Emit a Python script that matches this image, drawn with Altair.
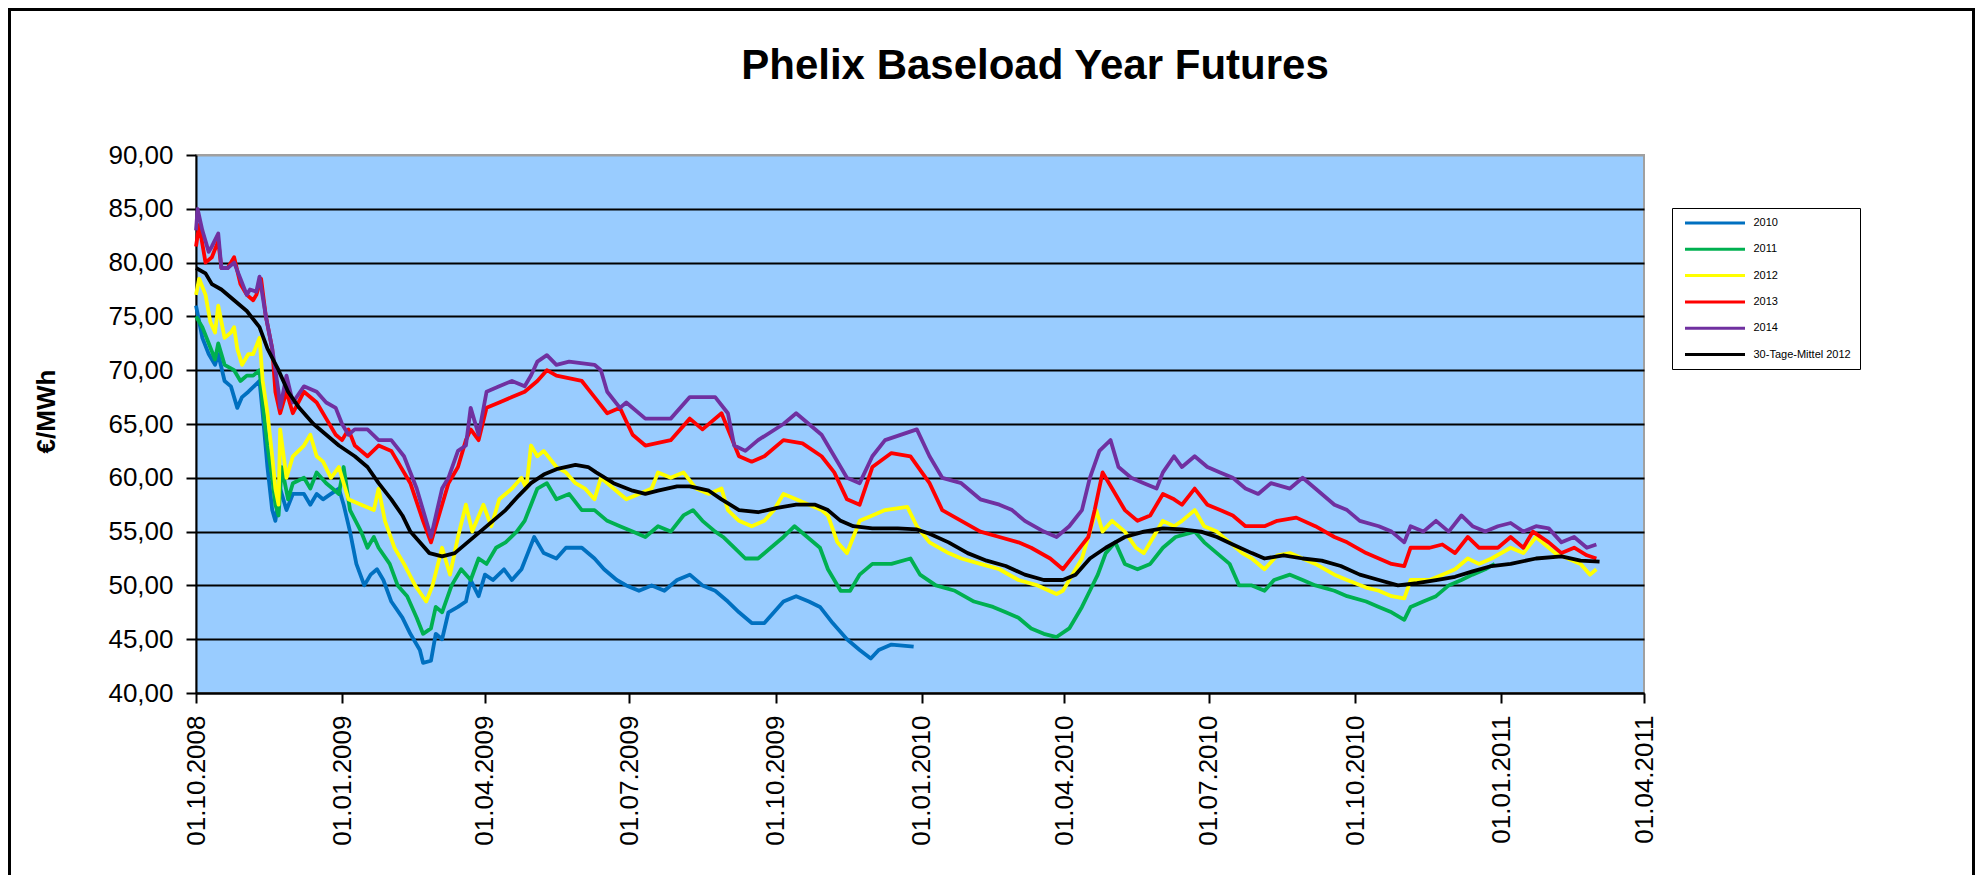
import altair as alt
import pandas as pd

START = "2008-10-01"
TITLE = "Phelix Baseload Year Futures"
SERIES = ["2010", "2011", "2012", "2013", "2014", "30-Tage-Mittel 2012"]
COLORS = ["#0070C0", "#00B050", "#FFFF00", "#FF0000", "#7030A0", "#000000"]

# days since 01.10.2008 and values (EUR/MWh)
d_2010 = [0, 4, 8, 12, 14, 18, 22, 26, 29, 33, 40, 42, 45, 48, 50, 53, 57, 61, 68, 72, 76, 80, 85, 90, 93, 97,
          101, 106, 110, 114, 118, 123, 130, 135, 141, 143, 148, 151, 155, 159, 165, 170, 173, 178, 182, 187,
          194, 199, 205, 209, 213, 219, 227, 233, 243, 251, 257, 265, 271, 279, 287, 295, 303, 311, 319, 327,
          335, 342, 350, 358, 364, 370, 378, 386, 393, 401, 410, 418, 425, 430, 438, 452]
v_2010 = [76, 73, 71.5, 70.5, 71.5, 69, 68.5, 66.5, 67.5, 68, 69, 66, 61, 57, 56, 59, 57, 58.5, 58.5, 57.5, 58.5,
          58, 58.5, 59, 57.5, 55, 52, 50, 51, 51.5, 50.5, 48.5, 47, 45.5, 44, 42.8, 43, 45.5, 45, 47.5, 48, 48.5,
          50.5, 49, 51, 50.5, 51.5, 50.5, 51.5, 53, 54.5, 53, 52.5, 53.5, 53.5, 52.5, 51.5, 50.5, 50, 49.5, 50,
          49.5, 50.5, 51, 50, 49.5, 48.5, 47.5, 46.5, 46.5, 47.5, 48.5, 49, 48.5, 48, 46.5, 45, 44, 43.2, 44,
          44.5, 44.3]

d_2011 = [0, 4, 8, 12, 14, 18, 24, 28, 32, 36, 40, 42, 45, 48, 50, 52, 54, 58, 61, 68, 72, 76, 82, 86, 90, 93,
          97, 104, 108, 112, 115, 122, 127, 133, 139, 143, 148, 151, 155, 161, 167, 173, 178, 183, 189, 195, 202,
          207, 211, 215, 221, 227, 235, 243, 251, 259, 267, 275, 283, 291, 299, 307, 313, 319, 327, 332, 339,
          346, 354, 362, 370, 377, 385, 393, 398, 406, 412, 418, 426, 438, 450, 456, 466, 478, 490, 502, 510,
          518, 526, 534, 542, 550, 558, 563, 568, 573, 579, 585, 593, 601, 609, 617, 629, 635, 643, 651, 657,
          665, 673, 679, 689, 697, 705, 717, 725, 737, 745, 753, 761, 765, 773, 781, 789, 797, 804, 812, 818]
v_2011 = [75, 74, 72.5, 71, 72.5, 70.5, 70, 69, 69.5, 69.5, 70, 67, 63, 60, 57.5, 56.5, 61, 58, 59.5, 60, 59,
          60.5, 59.5, 59, 58.5, 61, 57, 55, 53.5, 54.5, 53.5, 52, 50, 49, 47, 45.5, 46, 48, 47.5, 50, 51.5, 50.5,
          52.5, 52, 53.5, 54, 55, 56, 57.5, 59, 59.5, 58, 58.5, 57, 57, 56, 55.5, 55, 54.5, 55.5, 55, 56.5, 57,
          56, 55, 54.5, 53.5, 52.5, 52.5, 53.5, 54.5, 55.5, 54.5, 53.5, 51.5, 49.5, 49.5, 51, 52, 52, 52.5, 51,
          50, 49.5, 48.5, 48, 47.5, 47, 46, 45.5, 45.2, 46, 48, 49.5, 51, 53, 54, 52, 51.5, 52, 53.5, 54.5, 55,
          54, 53, 52, 50, 50, 49.5, 50.5, 51, 50.5, 50, 49.5, 49, 48.5, 48, 47.5, 46.8, 48, 48.5, 49, 50, 50.5,
          51, 51.5, 52]

d_2012 = [0, 2, 6, 9, 12, 14, 18, 22, 24, 26, 29, 33, 36, 40, 42, 45, 48, 50, 52, 53, 57, 61, 68, 72, 76, 80,
          85, 90, 96, 104, 112, 115, 119, 125, 131, 138, 145, 149, 155, 160, 165, 170, 174, 181, 186, 191, 199,
          205, 208, 211, 215, 219, 227, 233, 239, 245, 251, 255, 263, 271, 279, 287, 291, 299, 307, 315, 323,
          331, 335, 342, 350, 358, 364, 370, 378, 386, 394, 398, 404, 410, 414, 418, 426, 434, 448, 454, 462,
          474, 482, 494, 506, 518, 530, 542, 546, 552, 558, 563, 567, 571, 577, 585, 592, 597, 603, 609, 616,
          621, 629, 635, 643, 651, 659, 665, 673, 681, 689, 697, 705, 717, 725, 737, 745, 753, 761, 765, 777,
          785, 793, 801, 808, 816, 828, 836, 844, 856, 864, 872, 878, 882]
v_2012 = [77, 78.5, 77, 74.5, 73.5, 76, 73, 73.5, 74, 72, 70.5, 71.5, 71.5, 73, 69, 66, 62, 59, 57.5, 64.5, 60,
          62, 63, 64, 62, 61.5, 60, 61, 58, 57.5, 57, 59, 56, 53.5, 52, 50, 48.5, 50, 53.5, 51, 54.5, 57.5, 55,
          57.5, 55.5, 58, 59, 60, 59, 63, 62, 62.5, 61, 60.5, 59.5, 59, 58, 60, 59, 58, 58.5, 59, 60.5, 60, 60.5,
          59, 58.5, 59, 57, 56, 55.5, 56, 57, 58.5, 58, 57.5, 57, 56.5, 54, 53, 54.5, 56, 56.5, 57, 57.3, 55.5,
          54, 53, 52.5, 52, 51.5, 50.5, 50, 49.2, 49.5, 51, 52.5, 55, 57, 55, 56, 55, 53.5, 53, 54.5, 56, 55.5,
          56, 57, 55.5, 55, 54, 53, 52.5, 51.5, 52.8, 53, 52.5, 52, 51, 50.5, 49.8, 49.5, 49, 48.8, 50.5, 50.5,
          51, 51.5, 52.5, 52, 52.5, 53.5, 53, 54.5, 53, 52.5, 52, 51, 51.5]

d_2013 = [0, 2, 6, 10, 14, 16, 20, 24, 28, 32, 36, 38, 41, 44, 48, 50, 53, 57, 61, 68, 76, 82, 88, 92, 96, 100,
          108, 115, 123, 135, 143, 148, 155, 159, 165, 170, 173, 178, 183, 191, 199, 207, 215, 221, 227, 243,
          251, 259, 267, 275, 283, 299, 311, 319, 331, 342, 350, 358, 370, 382, 394, 402, 410, 418, 426, 438,
          450, 462, 470, 482, 494, 506, 518, 526, 538, 546, 554, 562, 566, 571, 577, 585, 593, 601, 609, 616,
          621, 629, 637, 645, 653, 661, 673, 681, 693, 705, 717, 725, 737, 745, 753, 761, 765, 777, 785, 793,
          801, 808, 820, 828, 836, 842, 852, 860, 868, 876, 882]
v_2013 = [81.5, 83.5, 80, 80.5, 82, 79.5, 79.5, 80.5, 78, 77, 76.5, 77, 78.5, 75, 72, 68, 66, 68, 66, 68, 67,
          65.5, 64, 63.5, 64.5, 63, 62, 63, 62.5, 59.5, 56, 54, 57.5, 59.5, 61, 63.5, 64.5, 63.5, 66.5, 67, 67.5,
          68, 69, 70, 69.5, 69, 67.5, 66, 66.5, 64, 63, 63.5, 65.5, 64.5, 66, 62, 61.5, 62, 63.5, 63.2, 62, 60.5,
          58, 57.5, 61, 62.3, 62, 59.5, 57, 56, 55, 54.5, 54, 53.5, 52.5, 51.5, 53, 54.5, 57, 60.5, 59, 57, 56,
          56.5, 58.5, 58, 57.5, 59, 57.5, 57, 56.5, 55.5, 55.5, 56, 56.3, 55.5, 54.5, 54, 53, 52.5, 52, 51.8,
          53.5, 53.5, 53.8, 53, 54.5, 53.5, 53.5, 54.5, 53.5, 55, 54, 53, 53.5, 52.8, 52.5]

d_2014 = [0, 1, 4, 8, 10, 14, 16, 20, 24, 28, 32, 34, 38, 40, 44, 48, 52, 53, 57, 61, 68, 76, 82, 88, 92, 96,
          100, 108, 115, 123, 131, 139, 148, 155, 159, 165, 170, 173, 178, 183, 191, 199, 207, 211, 215, 221,
          227, 235, 251, 255, 259, 267, 271, 283, 299, 311, 327, 335, 339, 346, 354, 370, 378, 386, 394, 402,
          410, 418, 426, 434, 454, 462, 470, 482, 494, 506, 514, 522, 534, 542, 550, 558, 563, 569, 576, 581,
          589, 597, 605, 609, 616, 621, 629, 637, 645, 653, 661, 669, 677, 689, 697, 705, 717, 725, 733, 745,
          753, 761, 765, 773, 781, 789, 797, 804, 812, 820, 828, 836, 844, 852, 860, 868, 876, 882]
v_2014 = [83, 85, 83, 81, 81.5, 82.7, 79.5, 79.5, 80, 78.5, 77, 77.5, 77.3, 78.7, 75, 72, 68, 66.5, 69.5, 67,
          68.5, 68, 67, 66.5, 65, 64, 64.5, 64.5, 63.5, 63.5, 62, 59, 54.5, 59, 60, 62.5, 63, 66.5, 64, 68, 68.5,
          69, 68.5, 69.5, 70.8, 71.4, 70.5, 70.8, 70.5, 70, 68, 66.5, 67, 65.5, 65.5, 67.5, 67.5, 66, 63, 62.5,
          63.5, 65, 66, 65, 64, 62, 60, 59.5, 62, 63.5, 64.5, 62, 60, 59.5, 58, 57.5, 57, 56, 55, 54.5, 55.5, 57,
          60, 62.5, 63.5, 61, 60, 59.5, 59, 60.5, 62, 61, 62, 61, 60.5, 60, 59, 58.5, 59.5, 59, 60, 59, 57.5, 57,
          56, 55.5, 55, 54, 55.5, 55, 56, 55, 56.5, 55.5, 55, 55.5, 55.8, 55, 55.5, 55.3, 54, 54.5, 53.5, 53.8]

d_mean = [0, 6, 10, 16, 24, 32, 40, 45, 52, 58, 65, 74, 82, 90, 100, 108, 115, 123, 130, 135, 141, 147, 155,
          163, 171, 179, 187, 195, 203, 211, 219, 227, 239, 247, 252, 263, 275, 283, 291, 303, 311, 323, 331,
          342, 354, 366, 378, 390, 398, 406, 414, 426, 442, 454, 462, 474, 486, 498, 510, 522, 534, 546, 554,
          563, 573, 585, 597, 609, 621, 633, 643, 653, 665, 673, 685, 697, 709, 721, 733, 745, 757, 769, 781,
          793, 804, 816, 828, 844, 860, 872, 884]
v_mean = [79.5, 79, 78, 77.5, 76.5, 75.5, 74, 72, 70, 68, 66.5, 65, 64, 63, 62, 61, 59.5, 58, 56.5, 55, 54, 53,
          52.7, 53, 54, 55, 56, 57, 58.3, 59.5, 60.3, 60.8, 61.2, 61, 60.5, 59.5, 58.8, 58.5, 58.8, 59.2, 59.2,
          58.8, 58, 57, 56.8, 57.2, 57.5, 57.5, 57, 56, 55.5, 55.3, 55.3, 55.2, 54.8, 54, 53, 52.3, 51.8, 51,
          50.5, 50.5, 51, 52.5, 53.5, 54.5, 55, 55.3, 55.2, 55, 54.5, 53.8, 53, 52.5, 52.8, 52.5, 52.3, 51.8,
          51, 50.5, 50, 50.2, 50.5, 50.8, 51.3, 51.8, 52, 52.5, 52.7, 52.3, 52.2]

SERIES_DATA = [(d_2010, v_2010), (d_2011, v_2011), (d_2012, v_2012),
               (d_2013, v_2013), (d_2014, v_2014), (d_mean, v_mean)]

TICK_DATES = [(2008, 10), (2009, 1), (2009, 4), (2009, 7), (2009, 10), (2010, 1),
              (2010, 4), (2010, 7), (2010, 10), (2011, 1), (2011, 4)]

start = pd.Timestamp(START)
frames = []
for i, (name, (days, vals)) in enumerate(zip(SERIES, SERIES_DATA)):
    dates = start + pd.to_timedelta(days, unit="D")
    frames.append(pd.DataFrame({
        "date": dates.strftime("%Y-%m-%dT00:00:00"),
        "value": vals,
        "series": name,
        "ord": i,
    }))
df = pd.concat(frames, ignore_index=True)

FONT = "Liberation Sans"

x_axis = alt.Axis(
    values=[alt.DateTime(year=y, month=m, date=1) for y, m in TICK_DATES],
    format="%d.%m.%Y", labelAngle=-90, labelAlign="right", labelBaseline="middle",
    labelFont=FONT, labelFontSize=26, labelColor="black", labelPadding=12,
    labelFlush=False, labelOverlap=False, labelBound=False,
    tickSize=10, tickColor="black", tickWidth=2,
    domainColor="black", domainWidth=2, grid=False, title=None,
)

y_axis = alt.Axis(
    values=[40, 45, 50, 55, 60, 65, 70, 75, 80, 85, 90],
    labelExpr="replace(format(datum.value, '.2f'), '.', ',')",
    labelFont=FONT, labelFontSize=26, labelColor="black", labelPadding=13,
    labelFlush=False, labelOverlap=False,
    tickSize=10, tickColor="black", tickWidth=2,
    domainColor="black", domainWidth=2,
    grid=True, gridWidth=2,
    gridColor={"condition": {"test": "datum.value >= 90", "value": "#A0A0A0"}, "value": "black"},
    title="€/MWh", titleFont=FONT, titleFontSize=26, titleFontWeight="bold", titleColor="black",
    titleX=-150, titleY=256, titleAngle=-90, titleBaseline="middle", titleAlign="center",
)

legend = alt.Legend(
    title=None, orient="none", legendX=1476, legendY=53, direction="vertical",
    symbolType="M-1,0H11", symbolSize=100, symbolStrokeWidth=3, symbolOffset=3,
    labelFont=FONT, labelFontSize=11, labelColor="black", labelOffset=57,
    padding=8.5, rowPadding=13.3, fillColor="white", strokeColor="black",
)

lines = alt.Chart(df).mark_line(strokeWidth=3.8, strokeJoin="round").encode(
    x=alt.X("date:T", scale=alt.Scale(domain=[alt.DateTime(year=2008, month=10, date=1),
                                              alt.DateTime(year=2011, month=4, date=1)]),
            axis=x_axis),
    y=alt.Y("value:Q", scale=alt.Scale(domain=[40, 90], nice=False), axis=y_axis),
    color=alt.Color("series:N", scale=alt.Scale(domain=SERIES, range=COLORS), legend=legend),
    order=alt.Order("date:T"),
)

frame = alt.Chart(pd.DataFrame({"f": [0]})).mark_rect(
    filled=False, stroke="black", strokeWidth=3
).encode(
    x=alt.value(-186.5), x2=alt.value(1777.5), y=alt.value(-145.5), y2=alt.value(760)
)

title = alt.Chart(pd.DataFrame({"t": [TITLE]})).mark_text(
    font=FONT, fontSize=42, fontWeight="bold", color="black",
    align="center", baseline="alphabetic",
).encode(
    text="t:N", x=alt.value(839), y=alt.value(-76)
)

chart = alt.layer(frame, lines, title).properties(
    width=1448, height=538,
    padding={"left": 188, "top": 147, "right": 331, "bottom": 182},
    autosize="none",
    background="white",
).configure_view(
    fill="#99CCFF", stroke="#A0A0A0", strokeWidth=2,
)

chart.save("out.html", embed_options={"renderer": "svg", "actions": False})
